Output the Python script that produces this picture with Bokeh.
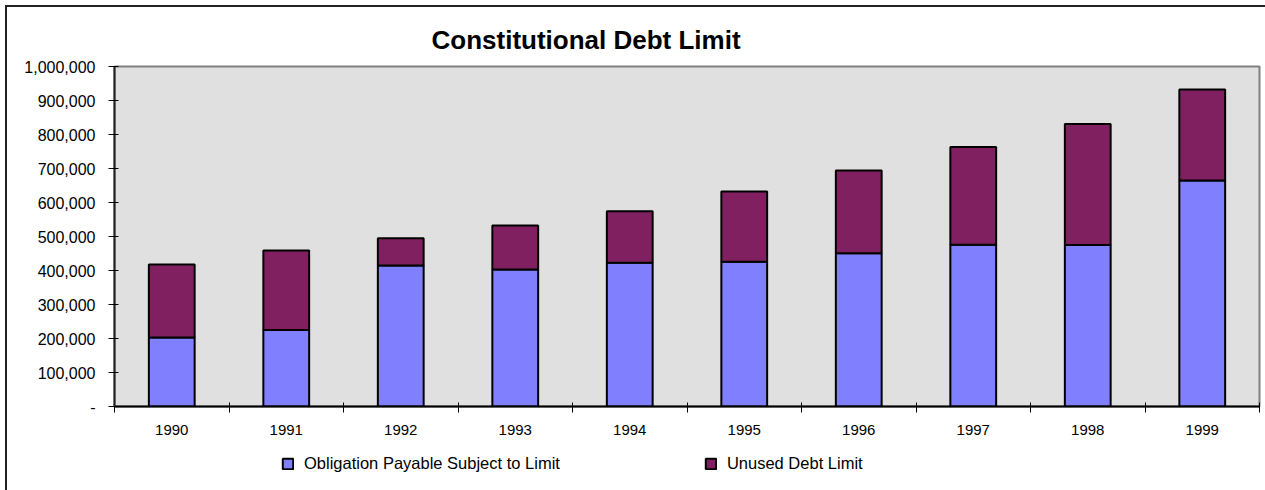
from bokeh.plotting import figure
from bokeh.layouts import column
from bokeh.models import (FixedTicker, NumeralTickFormatter, Legend, LegendItem,
                          ColumnDataSource, Range1d)
from bokeh.embed import file_html
from bokeh.resources import INLINE

# ---- data ----
years = ["1990", "1991", "1992", "1993", "1994", "1995", "1996", "1997", "1998", "1999"]
obligation = [203000, 225000, 415000, 403000, 423000, 426000, 451000, 476000, 475000, 665000]
unused = [215000, 234000, 80000, 129000, 151000, 206000, 243000, 287000, 356000, 267000]
y_ticks = [0, 100000, 200000, 300000, 400000, 500000, 600000, 700000, 800000, 900000, 1000000]
series_names = ["Obligation Payable Subject to Limit", "Unused Debt Limit"]
colors = ["#8080FF", "#802060"]

FONT = "Liberation Sans"
positions = list(range(1, len(years) + 1))
src = ColumnDataSource(dict(x=positions, obligation=obligation, unused=unused))

OX, OY = 7, 7          # canvas origin inside the page (outer chart border)
W = 1265 - OX
MAIN_H = 445 - OY
LEG_H = 490 - 445

p = figure(width=W, height=MAIN_H, output_backend="svg", toolbar_location=None,
           x_range=Range1d(0.5, len(years) + 0.5), y_range=Range1d(0, 1000000),
           min_border_left=114 - OX, min_border_right=6, min_border_top=66 - OY,
           min_border_bottom=MAIN_H - (406 - OY),
           title="Constitutional Debt Limit")
p.title.text_font = FONT
p.title.text_font_size = "26px"
p.title.text_font_style = "bold"
p.title.text_color = "black"
p.title.align = "left"
p.title.offset = 317
p.title.standoff = 24

p.background_fill_color = "#E0E0E0"
p.border_fill_color = "white"
p.outline_line_color = "#808080"
p.outline_line_width = 2
p.xgrid.visible = False
p.ygrid.visible = False

rs = p.vbar_stack(["obligation", "unused"], x="x", width=0.4, source=src,
                  color=colors, line_color="black", line_width=2)

# y axis
ya = p.yaxis[0]
ya.ticker = FixedTicker(ticks=y_ticks, minor_ticks=[])
ya.formatter = NumeralTickFormatter(format="0,0")
ya.major_label_overrides = {0: "-"}
ya.major_label_text_font = FONT
ya.major_label_text_font_size = "16px"
ya.major_label_text_color = "black"
ya.major_tick_in = 4
ya.major_tick_out = 6
ya.major_tick_line_color = "black"
ya.axis_line_color = "#222222"
ya.axis_line_width = 2
ya.major_label_standoff = 13

# x axis: labels at category centres, ticks at category boundaries
xa = p.xaxis[0]
xa.ticker = FixedTicker(ticks=positions, minor_ticks=[i + 0.5 for i in range(0, len(years) + 1)])
xa.major_label_overrides = {i: y for i, y in zip(positions, years)}
xa.major_label_text_font = FONT
xa.major_label_text_font_size = "15px"
xa.major_label_text_color = "black"
xa.major_tick_in = 0
xa.major_tick_out = 0
xa.minor_tick_in = 4
xa.minor_tick_out = 6
xa.minor_tick_line_color = "black"
xa.axis_line_color = "black"
xa.axis_line_width = 2
xa.major_label_standoff = 12

# legend strip below the chart: its renderers are hidden, so only the
# legend swatches and labels show
lf = figure(width=W, height=LEG_H, output_backend="svg", toolbar_location=None,
            x_range=Range1d(0.5, len(years) + 0.5), y_range=Range1d(0, 1000000),
            min_border=0, min_border_left=0, min_border_right=0,
            min_border_top=0, min_border_bottom=0)
lf.axis.visible = False
lf.grid.visible = False
lf.outline_line_color = None
lf.background_fill_color = "white"
lrs = lf.vbar_stack(["obligation", "unused"], x="x", width=0.4, source=src,
                    color=colors, line_color="black", line_width=2)
for r in lrs:
    r.visible = False
lg = Legend(items=[LegendItem(label=n, renderers=[r]) for n, r in zip(series_names, lrs)],
            location=(167, LEG_H - 18 - 10), orientation="horizontal", padding=0, margin=0,
            spacing=144, border_line_color=None, background_fill_alpha=0,
            inactive_fill_alpha=0,
            glyph_width=13, glyph_height=13, label_height=16, label_standoff=10,
            label_text_font=FONT, label_text_font_size="16.5px", label_text_color="black")
lf.add_layout(lg, "center")

layout = column(p, lf, spacing=0)
layout.styles = {"margin-left": "5px", "margin-top": "5px",
                 "border-left": "2px solid #222222", "border-top": "2px solid #222222"}

open("out.html", "w").write(file_html(layout, INLINE))
